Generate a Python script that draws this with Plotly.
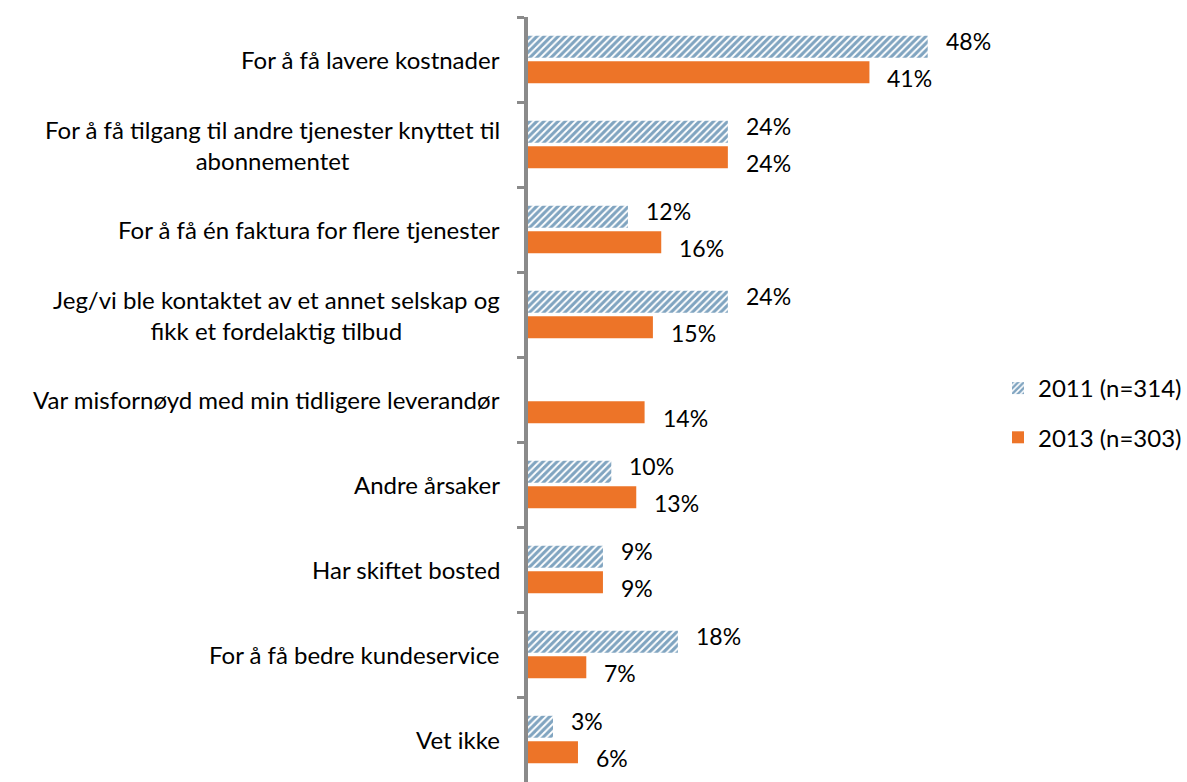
import plotly.graph_objects as go

# Reasons for switching provider, share of respondents (%)
categories = [
    "For å få lavere kostnader",
    "For å få tilgang til andre tjenester knyttet til<br>abonnementet",
    "For å få én faktura for flere tjenester",
    "Jeg/vi ble kontaktet av et annet selskap og<br>fikk et fordelaktig tilbud",
    "Var misfornøyd med min tidligere leverandør",
    "Andre årsaker",
    "Har skiftet bosted",
    "For å få bedre kundeservice",
    "Vet ikke",
]
values_2011 = [48, 24, 12, 24, None, 10, 9, 18, 3]
values_2013 = [41, 24, 16, 15, 14, 13, 9, 7, 6]
series_names = ["2011 (n=314)", "2013 (n=303)"]

FONT = "Lato"
BLUE = "#024a82"
ORANGE = "#ed7428"
GREY = "#8a8a8a"
LABEL_SIZE = 24
VALUE_SIZE = 23

fig = go.Figure()
fig.add_trace(go.Bar(
    y=categories, x=values_2011, orientation="h", name=series_names[0],
    legendgroup="a",
    marker=dict(color="white", line=dict(width=0),
                pattern=dict(shape="/", fgcolor=BLUE, bgcolor="white",
                             size=5, solidity=0.62, fillmode="overlay")),
))
fig.add_trace(go.Bar(
    y=categories, x=values_2013, orientation="h", name=series_names[1],
    legendgroup="b",
    marker=dict(color=ORANGE, line=dict(width=0)),
))

annotations = []
# value labels just right of each bar
for i, c in enumerate(categories):
    for v, off in ((values_2011[i], -0.215), (values_2013[i], 0.215)):
        if v is None:
            continue
        annotations.append(dict(
            x=v, y=i + off, xref="x", yref="y", text=f"{v}%",
            showarrow=False, xanchor="left", yanchor="middle", xshift=16,
            font=dict(family=FONT, size=VALUE_SIZE, color="#000"),
        ))
    # category labels, right-aligned block with centred lines
    annotations.append(dict(
        x=0, y=i, xref="paper", yref="y", text=c, showarrow=False,
        xanchor="right", yanchor="middle", align="center", xshift=-26,
        font=dict(family=FONT, size=LABEL_SIZE, color="#000"),
    ))

fig.update_layout(
    width=1187, height=782,
    margin=dict(l=528, r=176, t=17, b=0, autoexpand=False),
    paper_bgcolor="white", plot_bgcolor="white",
    barmode="group", bargap=0.4, bargroupgap=0.14,
    font=dict(family=FONT, size=LABEL_SIZE, color="#000"),
    showlegend=True,
    legend=dict(
        xref="container", yref="container", x=998 / 1187, y=1 - 366 / 782,
        xanchor="left", yanchor="top", traceorder="grouped",
        tracegroupgap=15, font=dict(family=FONT, size=LABEL_SIZE, color="#000"),
        itemwidth=30, bgcolor="rgba(0,0,0,0)",
    ),
    annotations=annotations,
)
fig.update_xaxes(range=[0, 58], visible=False, fixedrange=True)
fig.update_yaxes(
    type="category", categoryorder="array", categoryarray=categories,
    range=[8.5, -0.5], showticklabels=False,
    showline=True, linecolor=GREY, linewidth=4,
    ticks="outside", tickson="boundaries", ticklen=7, tickwidth=3,
    tickcolor=GREY, showgrid=False, zeroline=False,
)

fig.write_html("out.html")
